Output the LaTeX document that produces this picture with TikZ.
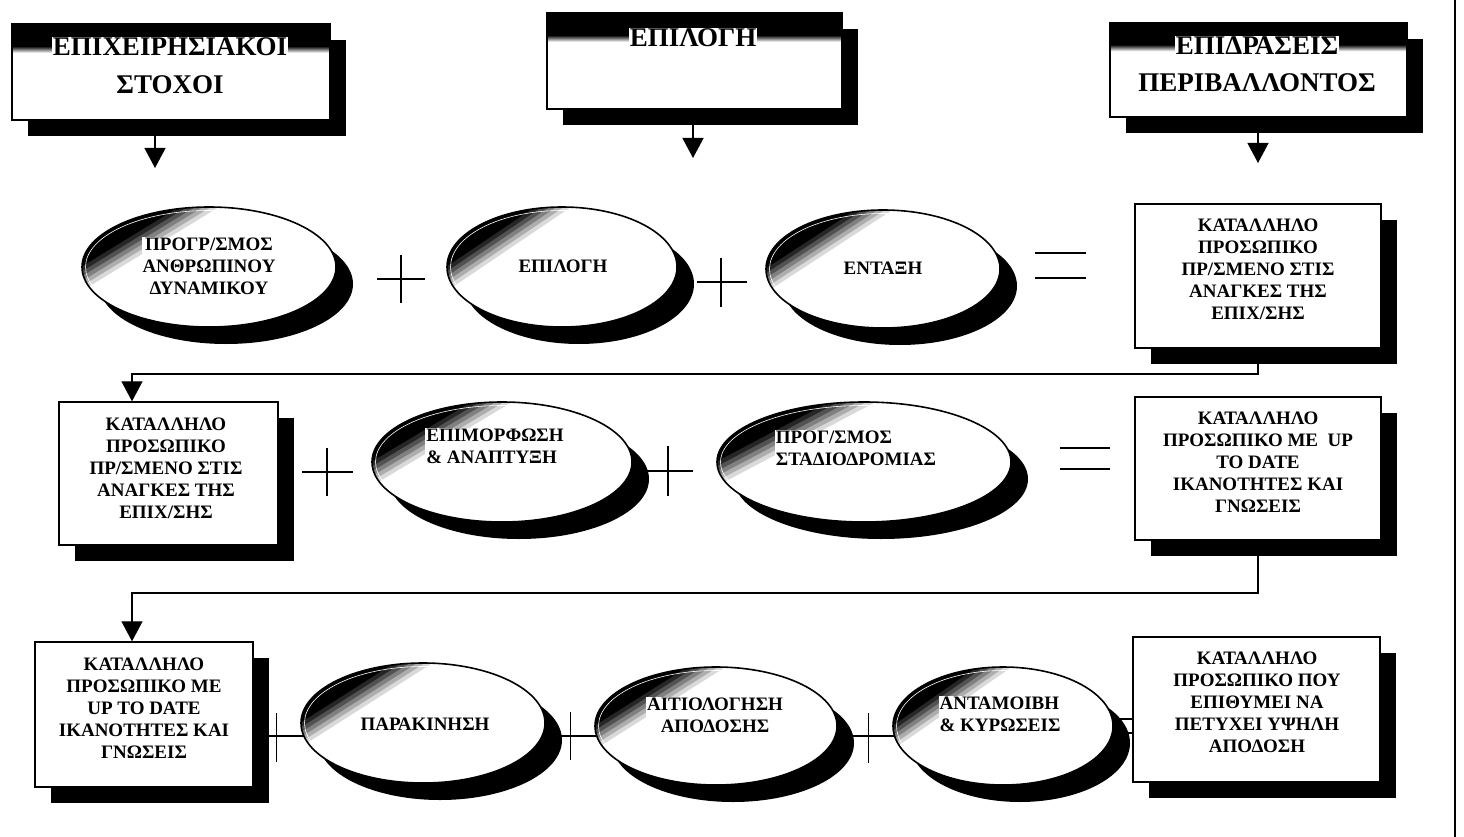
\documentclass[tikz,border=0pt]{standalone}
\usepackage{fontspec}
\setmainfont{Liberation Serif}
\usetikzlibrary{shapes.geometric,arrows.meta}

% dark band at the top of each heading box
\pgfdeclareverticalshading{bandshade}{100bp}{color(0bp)=(white); color(60bp)=(white); color(63.5bp)=(black); color(100bp)=(black)}

\pgfdeclarelayer{under}
\pgfsetlayers{under,main}

\tikzset{
  castshadow/.style={rectangle, fill=black, inner sep=0pt},
  ovalcast/.style={ellipse, fill=black, inner sep=0pt},
  plainbox/.style={rectangle, draw, line width=1.4pt, fill=white, inner sep=0pt},
  headbox/.style={plainbox, path picture={\shade[shading=bandshade] (path picture bounding box.south west) rectangle (path picture bounding box.north east);}},
  ovalnode/.style={ellipse, draw, line width=1.6pt, inner sep=0pt},
  bodytext/.style={font=\fontsize{19}{22}\selectfont\bfseries, align=center, inner sep=1pt},
  ovaltext/.style={bodytext, fill=white},
  headtext/.style={font=\fontsize{27}{32}\selectfont\bfseries, fill=white, inner sep=1pt},
  link/.style={line width=1.3pt},
  tick/.style={line width=1pt},
  flow/.style={link, -{Triangle[width=21pt,length=20pt]}},
}

% box with a cast shadow: name, centre x, centre y, width, height, style
\newcommand{\MkBox}[6]{%
  \begin{pgfonlayer}{under}
    \node[castshadow, minimum width=#4, minimum height=#5] (#1-s) at (#2+16,#3+16) {};
  \end{pgfonlayer}
  \node[#6, minimum width=#4, minimum height=#5] (#1) at (#2,#3) {};}

% oval with a cast shadow and a dark corner in its upper left, made of
% half-planes of growing darkness (in the oval's own unit coordinates)
% arguments: name, centre x, centre y, x radius, y radius
\newcommand{\MkOval}[5]{%
  \begin{pgfonlayer}{under}
    \node[ovalcast, minimum width=2*#4, minimum height=2*#5] (#1-s) at (#2+17,#3+17) {};
  \end{pgfonlayer}
  \begin{scope}
    \clip (#2,#3) ellipse [x radius=#4pt, y radius=#5pt];
    \fill[white] (#2,#3) ellipse [x radius=#4pt, y radius=#5pt];
    \begin{scope}[shift={(#2,#3)}, xscale=#4, yscale=#5]
      \foreach \lev/\dark in {0.55/15,0.6/32,0.65/50,0.7/68,0.75/85,0.8/100}
        \fill[black!\dark] ({-0.79*\lev+1.22},{-0.61*\lev-1.58}) -- ({-0.79*\lev-1.22},{-0.61*\lev+1.58})
          -- ({-0.79*(\lev+2)-1.22},{-0.61*(\lev+2)+1.58}) -- ({-0.79*(\lev+2)+1.22},{-0.61*(\lev+2)-1.58}) -- cycle;
    \end{scope}
    \draw[white, line width=0.6pt] (#2,#3) ellipse [x radius={#4pt-3.5pt}, y radius={#5pt-3.5pt}];
  \end{scope}
  \node[ovalnode, minimum width=2*#4, minimum height=2*#5] (#1) at (#2,#3) {};}

\begin{document}
\begin{tikzpicture}[x=1pt, y=-1pt]
\begin{pgfonlayer}{under}
  \fill[white] (0,0) rectangle (1464,837);
\end{pgfonlayer}
\useasboundingbox (0,0) rectangle (1464,837);

% heading boxes
\MkBox{b1}{171}{72}{318}{96}{headbox}
\MkBox{b2}{694.5}{61}{295}{96}{headbox}
\MkBox{b3}{1258.5}{70}{297}{94}{headbox}
\node[headtext] (b1a) at (170,47) {ΕΠΙΧΕΙΡΗΣΙΑΚΟΙ};
\node[headtext] (b1b) at (170,85) {ΣΤΟΧΟΙ};
\node[headtext] (b2a) at (693,38) {ΕΠΙΛΟΓΗ};
\node[headtext] (b3a) at (1257,46) {ΕΠΙΔΡΑΣΕΙΣ};
\node[headtext] (b3b) at (1257,83) {ΠΕΡΙΒΑΛΛΟΝΤΟΣ};

% first row
\MkOval{e1}{209}{267}{127}{60}
\MkOval{e2}{562}{267}{115}{60}
\MkOval{e3}{883}{269}{117}{59}
\MkBox{r1}{1258}{276}{246}{144}{plainbox}
\node[ovaltext] (e1t) at (209,266) {ΠΡΟΓΡ/ΣΜΟΣ\\ΑΝΘΡΩΠΙΝΟΥ\\ΔΥΝΑΜΙΚΟΥ};
\node[ovaltext] (e2t) at (563,266) {ΕΠΙΛΟΓΗ};
\node[ovaltext] (e3t) at (883,268) {ΕΝΤΑΞΗ};
\node[bodytext] (r1t) at (1258,269) {ΚΑΤΑΛΛΗΛΟ\\ΠΡΟΣΩΠΙΚΟ\\ΠΡ/ΣΜΕΝΟ ΣΤΙΣ\\ΑΝΑΓΚΕΣ ΤΗΣ\\ΕΠΙΧ/ΣΗΣ};

% second row
\MkBox{l2}{168.5}{473.5}{219}{143}{plainbox}
\MkOval{e4}{502}{462}{130}{60}
\MkOval{e5}{864}{462}{147}{60}
\MkBox{r2}{1258}{468.5}{246}{143}{plainbox}
\node[bodytext] (l2t) at (166,468) {ΚΑΤΑΛΛΗΛΟ\\ΠΡΟΣΩΠΙΚΟ\\ΠΡ/ΣΜΕΝΟ ΣΤΙΣ\\ΑΝΑΓΚΕΣ ΤΗΣ\\ΕΠΙΧ/ΣΗΣ};
\node[ovaltext, align=left] (e4t) at (495,446) {ΕΠΙΜΟΡΦΩΣΗ\\\& ΑΝΑΠΤΥΞΗ};
\node[ovaltext, align=left] (e5t) at (856,448) {ΠΡΟΓ/ΣΜΟΣ\\ΣΤΑΔΙΟΔΡΟΜΙΑΣ};
\node[bodytext] (r2t) at (1258,462) {ΚΑΤΑΛΛΗΛΟ\\ΠΡΟΣΩΠΙΚΟ ΜΕ\ \ UP\\TO DATE\\ΙΚΑΝΟΤΗΤΕΣ ΚΑΙ\\ΓΝΩΣΕΙΣ};

% third row
\MkBox{l3}{144}{714.5}{218}{145}{plainbox}
\MkOval{e6}{423}{723}{122}{60}
\MkOval{e7}{716}{726}{121}{59}
\MkOval{e8}{1003}{726}{110}{59}
\MkBox{r3}{1256.5}{709.5}{247}{145}{plainbox}
\node[bodytext] (l3t) at (144,708) {ΚΑΤΑΛΛΗΛΟ\\ΠΡΟΣΩΠΙΚΟ ΜΕ\\UP TO DATE\\ΙΚΑΝΟΤΗΤΕΣ ΚΑΙ\\ΓΝΩΣΕΙΣ};
\node[ovaltext] (e6t) at (425,724) {ΠΑΡΑΚΙΝΗΣΗ};
\node[ovaltext] (e7t) at (715,715) {ΑΙΤΙΟΛΟΓΗΣΗ\\ΑΠΟΔΟΣΗΣ};
\node[ovaltext, align=left] (e8t) at (1000,714) {ΑΝΤΑΜΟΙΒΗ\\\& ΚΥΡΩΣΕΙΣ};
\node[bodytext] (r3t) at (1257,702) {ΚΑΤΑΛΛΗΛΟ\\ΠΡΟΣΩΠΙΚΟ ΠΟΥ\\ΕΠΙΘΥΜΕΙ ΝΑ\\ΠΕΤΥΧΕΙ ΥΨΗΛΗ\\ΑΠΟΔΟΣΗ};

% arrow ends and bends
\coordinate (a1) at (155,168);
\coordinate (a2) at (693,158);
\coordinate (a3) at (1258,163);
\coordinate (k1) at (132,374);
\coordinate (k2) at (132,593);
\coordinate (row3) at (0,736);
\coordinate (eqa) at (0,719);
\coordinate (eqb) at (0,733);

\begin{pgfonlayer}{under}
  \draw[flow] (b1.south -| a1) -- (a1);
  \draw[flow] (b2.south -| a2) -- (a2);
  \draw[flow] (b3.south -| a3) -- (a3);
  \draw[flow] (r1.south) |- (k1) -- (k1 |- l2.north);
  \draw[flow] (r2.south) |- (k2) -- (k2 |- l3.north);
  \draw[link] (l3.east |- row3) -- (e6.center |- row3);
  \draw[link] (e6.center |- row3) -- (e7.center |- row3);
  \draw[link] (e7.center |- row3) -- (e8.center |- row3);
  \draw[link] (e8.center |- eqa) -- (r3.west |- eqa);
  \draw[link] (e8.center |- eqb) -- (r3.west |- eqb);
\end{pgfonlayer}

% plus and equals signs between the terms
\draw[link] (377,279) -- (425,279) (401,255) -- (401,303);
\draw[link] (697,282) -- (747,282) (721,258) -- (721,307);
\draw[link] (1035,253) -- (1086,253) (1035,278) -- (1086,278);
\draw[link] (302,472) -- (353,472) (327,448) -- (327,496);
\draw[link] (647,471) -- (693,471) (668,446) -- (668,496);
\draw[link] (1060,448) -- (1110,448) (1060,469) -- (1110,469);
\draw[tick] (276,713) -- (276,762);
\draw[tick] (570,712) -- (570,760);
\draw[tick] (868,713) -- (868,763);

% page rule on the right
\draw[line width=1.5pt] (1455,0) -- (1455,837);
\end{tikzpicture}
\end{document}
